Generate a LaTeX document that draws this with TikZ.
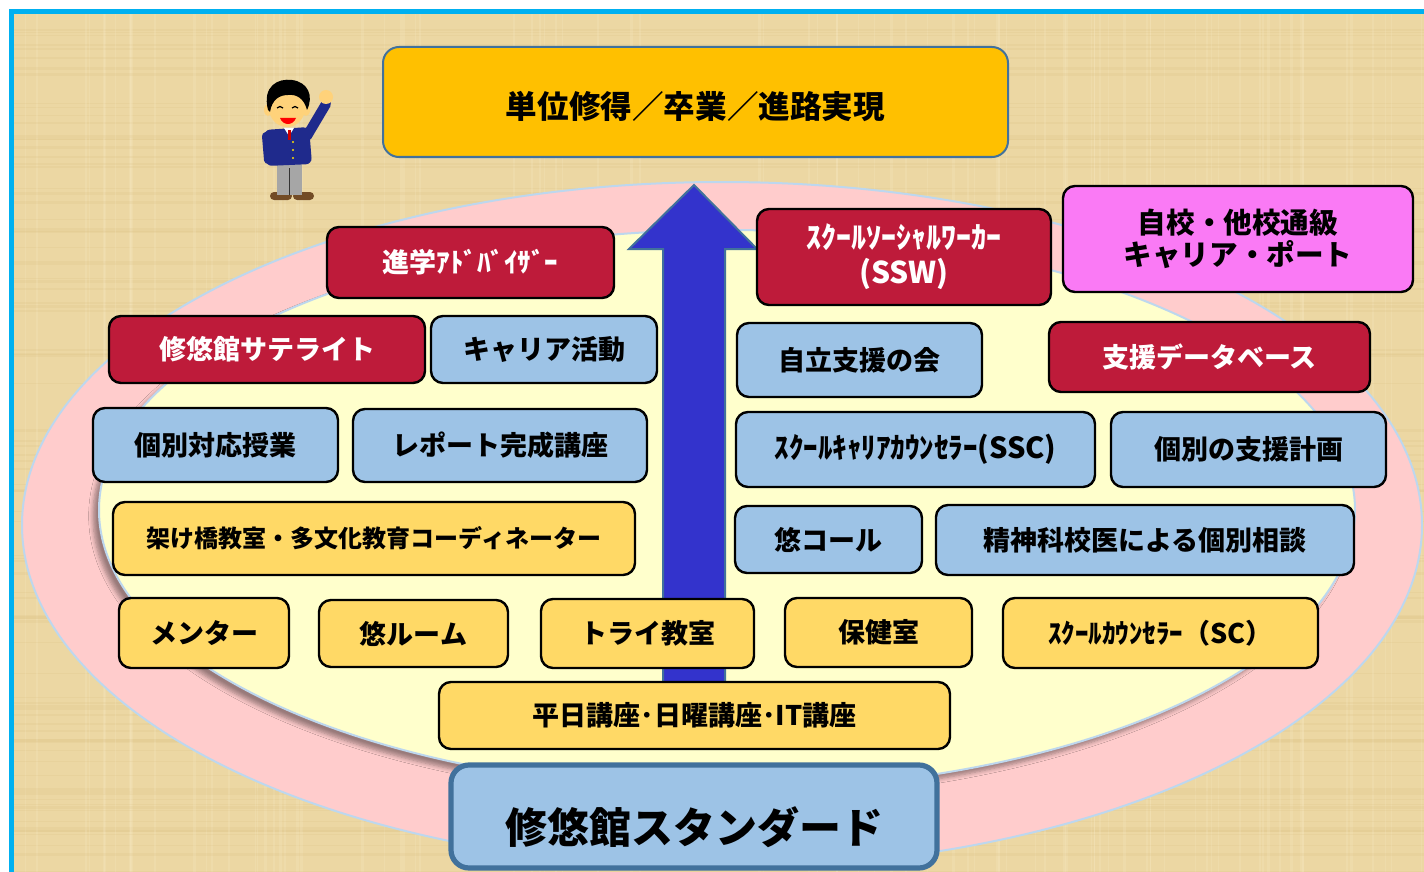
\documentclass[tikz,border=0pt]{standalone}
\usepackage{fontspec}
\setmainfont{Noto Sans CJK JP}
\usepackage{xcolor}
\usepackage{tikz}
\usetikzlibrary{shadows.blur}

\definecolor{frameblue}{HTML}{00B0F0}
\definecolor{paper}{HTML}{ECD7A3}
\definecolor{paperdark}{HTML}{D8BD80}
\definecolor{paperlight}{HTML}{F7E8C2}
\definecolor{ringpink}{HTML}{FFCCCC}
\definecolor{corecream}{HTML}{FFFFCC}
\definecolor{ringline}{HTML}{BDD7EE}
\definecolor{steel}{HTML}{41719C}
\definecolor{arrowblue}{HTML}{3333CC}
\definecolor{goalorange}{HTML}{FFC000}
\definecolor{boxred}{HTML}{BE1B3A}
\definecolor{boxblue}{HTML}{9DC3E6}
\definecolor{boxyellow}{HTML}{FFD966}
\definecolor{boxpink}{HTML}{FA7AF5}
\definecolor{skin}{HTML}{FFD27A}
\definecolor{jacket}{HTML}{1F2A8C}

\begin{document}
\begin{tikzpicture}[
    x=0.5pt, y=-0.5pt,
    box/.style={draw, line width=1.2pt, rounded corners=6pt, align=center,
                inner sep=0pt, font=\fontsize{13.5}{16}\selectfont\bfseries},
    redbox/.style={box, fill=boxred, text=white},
    bluebox/.style={box, fill=boxblue},
    ylwbox/.style={box, fill=boxyellow},
    ring/.style={draw=ringline, line width=1pt}]
  \useasboundingbox (0,0) rectangle (1424,872);
  % frame and paper
  \fill[white] (0,0) rectangle (1424,872);
  \fill[frameblue] (9,9) rectangle (1424,872);
  \fill[paper] (14,14) rectangle (1424,872);
  \pgfmathsetseed{17}
  \begin{scope}
    \clip (14,14) rectangle (1424,872);
    \foreach \i in {1,...,90} {
      \pgfmathsetmacro\py{14+rnd*858}
      \pgfmathsetmacro\pw{0.3+rnd*1.2}
      \draw[paperdark, opacity=0.18, line width=\pw pt] (14,\py) -- (1424,\py);
      \pgfmathsetmacro\px{14+rnd*1410}
      \draw[paperlight, opacity=0.25, line width=\pw pt] (\px,14) -- (\px,872);
    }
  \end{scope}

  % rings
  \fill[ringpink] (722,525) ellipse [x radius=700, y radius=343];
  \draw[ring] (722,525) ellipse [x radius=700, y radius=343];
  \fill[corecream, blur shadow={shadow xshift=-3pt, shadow yshift=-3pt,
        shadow opacity=40, shadow blur steps=6}]
    (727,510) ellipse [x radius=628, y radius=280];
  \draw[ring] (727,510) ellipse [x radius=628, y radius=280];

  % big arrow
  \draw[fill=arrowblue, draw=steel, line width=1pt]
    (663,720) -- (663,249) -- (629,249) -- (694,185) -- (757,249)
    -- (725,249) -- (725,720) -- cycle;

  % waving man
  \fill[brown!60!black, rounded corners=2pt] (270,192) rectangle (292,200);
  \fill[brown!60!black, rounded corners=2pt] (293,192) rectangle (314,200);
  \fill[gray!70] (277,160) rectangle (302,195);
  \draw[gray!40!black, line width=0.4pt] (289.5,168) -- (289.5,195);
  \draw[jacket, line width=5pt, line cap=round] (307,136) -- (326,104);
  \fill[skin] (326,97) ellipse [x radius=7, y radius=7];
  \fill[jacket, rounded corners=3pt] (264,130) -- (309,127) -- (312,164)
    -- (266,166) -- cycle;
  \draw[jacket, line width=4pt, line cap=round] (266,136) -- (268,160);
  \fill[white] (284,128) -- (294,128) -- (289,136) -- cycle;
  \fill[red!80!black] (288,130) rectangle (291,140);
  \foreach \by in {142,150,158} \fill[yellow!80!orange] (293,\by) circle [radius=1.2];
  \fill[skin] (268,110) ellipse [x radius=4, y radius=6];
  \fill[skin] (306,110) ellipse [x radius=4, y radius=6];
  \fill[skin] (287,108) ellipse [x radius=18, y radius=19];
  \fill[black] (268,110) .. controls (262,86) and (278,78) .. (292,80)
    .. controls (308,82) and (314,96) .. (307,110)
    .. controls (304,98) and (296,94) .. (288,95)
    .. controls (280,95) and (272,99) .. (270,112) -- cycle;
  \draw[black, line width=0.6pt] (277,108) .. controls (279,106) and (281,106) .. (283,108);
  \draw[black, line width=0.6pt] (292,108) .. controls (294,106) and (296,106) .. (298,108);
  \fill[red] (280,118) .. controls (283,126) and (293,126) .. (296,118) -- cycle;

  % goal and base
  \node[box, fill=goalorange, draw=steel, line width=1pt, rounded corners=8pt,
        minimum width=312.5pt, minimum height=55pt, text height=20pt, text depth=3pt,
        font=\fontsize{15.8}{18}\selectfont\bfseries] (goal) at (695.5,102)
        {単位修得／卒業／進路実現};
  \node[box, fill=boxblue, draw=steel, line width=2.6pt, rounded corners=9pt,
        minimum width=243pt, minimum height=51.5pt, text height=30pt, text depth=3pt,
        font=\fontsize{21}{24}\selectfont\bfseries] (standard) at (694,816.5)
        {修悠館スタンダード};

  % upper boxes
  \node[redbox, minimum width=143.5pt, minimum height=35.5pt] (adv) at (470.5,262.5)
        {進学ｱﾄﾞﾊﾞｲｻﾞｰ};
  \node[redbox, minimum width=147pt, minimum height=48pt,
        font=\fontsize{15}{17.5}\selectfont\bfseries] (ssw) at (904,257)
        {ｽｸｰﾙｿｰｼｬﾙﾜｰｶｰ\\(SSW)};
  \node[box, fill=boxpink, minimum width=175pt, minimum height=53pt,
        font=\fontsize{14.3}{16}\selectfont\bfseries] (port) at (1238,239)
        {自校・他校通級\\キャリア・ポート};
  \node[redbox, minimum width=158pt, minimum height=33.5pt] (sat) at (267,349.5)
        {修悠館サテライト};
  \node[bluebox, minimum width=113pt, minimum height=33.5pt] (act) at (544,349.5)
        {キャリア活動};
  \node[bluebox, minimum width=122.5pt, minimum height=37pt] (jiritsu) at (859.5,360)
        {自立支援の会};
  \node[redbox, minimum width=160.5pt, minimum height=35pt] (db) at (1209.5,357)
        {支援データベース};

  % middle boxes
  \node[bluebox, minimum width=122.5pt, minimum height=37pt] (kobetsu) at (215.5,445)
        {個別対応授業};
  \node[bluebox, minimum width=147pt, minimum height=36.5pt] (report) at (500,445.5)
        {レポート完成講座};
  \node[bluebox, minimum width=179.5pt, minimum height=37.5pt,
        font=\fontsize{14.5}{16}\selectfont\bfseries] (ssc) at (915.5,449.5)
        {ｽｸｰﾙｷｬﾘｱｶｳﾝｾﾗｰ(SSC)};
  \node[bluebox, minimum width=137.5pt, minimum height=37.5pt] (plan) at (1248.5,449.5)
        {個別の支援計画};
  \node[ylwbox, minimum width=261pt, minimum height=36.5pt,
        font=\fontsize{12}{14}\selectfont\bfseries] (bridge) at (374,538.5)
        {架け橋教室・多文化教育コーディネーター};
  \node[bluebox, minimum width=93.5pt, minimum height=33.5pt] (call) at (828.5,539.5)
        {悠コール};
  \node[bluebox, minimum width=209pt, minimum height=35pt] (doctor) at (1145,540)
        {精神科校医による個別相談};

  % lower boxes
  \node[ylwbox, minimum width=85pt, minimum height=35pt] (mentor) at (204,633)
        {メンター};
  \node[ylwbox, minimum width=94.5pt, minimum height=33.5pt] (room) at (413.5,633.5)
        {悠ルーム};
  \node[ylwbox, minimum width=106.5pt, minimum height=34.5pt] (try) at (647.5,633.5)
        {トライ教室};
  \node[ylwbox, minimum width=93.5pt, minimum height=34.5pt] (hoken) at (878.5,632.5)
        {保健室};
  \node[ylwbox, minimum width=157.5pt, minimum height=35pt] (sc) at (1160.5,633)
        {ｽｸｰﾙｶｳﾝｾﾗｰ（SC）};
  \node[ylwbox, minimum width=255.5pt, minimum height=33.5pt] (course) at (694.5,715.5)
        {平日講座･日曜講座･IT講座};
\end{tikzpicture}
\end{document}
